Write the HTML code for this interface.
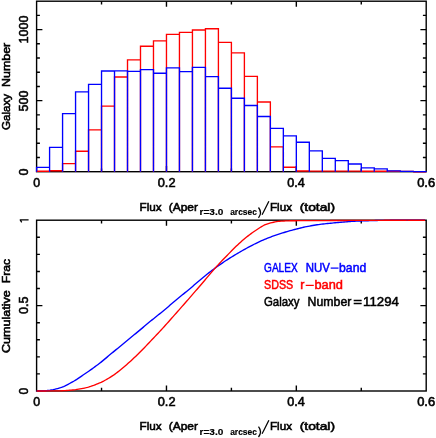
<!DOCTYPE html>
<html><head><meta charset="utf-8"><title>chart</title>
<style>html,body{margin:0;padding:0;background:#fff}svg{display:block;will-change:transform}text{font-family:"Liberation Sans",sans-serif}</style>
</head><body>
<svg width="436" height="438" viewBox="0 0 436 438">
<rect width="436" height="438" fill="#fff"/>
<rect x="36.6" y="1.2" width="389.60" height="170.50" fill="none" stroke="#000" stroke-width="1.4"/>
<path d="M101.53 1.2v3.2M101.53 171.7v-3.2" stroke="#000" stroke-width="1.4" fill="none"/>
<path d="M166.47 1.2v5.6M166.47 171.7v-5.6" stroke="#000" stroke-width="1.4" fill="none"/>
<path d="M231.40 1.2v3.2M231.40 171.7v-3.2" stroke="#000" stroke-width="1.4" fill="none"/>
<path d="M296.33 1.2v5.6M296.33 171.7v-5.6" stroke="#000" stroke-width="1.4" fill="none"/>
<path d="M361.27 1.2v3.2M361.27 171.7v-3.2" stroke="#000" stroke-width="1.4" fill="none"/>
<path d="M36.6 157.49h3.3M426.2 157.49h-3.3" stroke="#000" stroke-width="1.4" fill="none"/>
<path d="M36.6 143.28h3.3M426.2 143.28h-3.3" stroke="#000" stroke-width="1.4" fill="none"/>
<path d="M36.6 129.07h3.3M426.2 129.07h-3.3" stroke="#000" stroke-width="1.4" fill="none"/>
<path d="M36.6 114.86h3.3M426.2 114.86h-3.3" stroke="#000" stroke-width="1.4" fill="none"/>
<path d="M36.6 100.65h5.8M426.2 100.65h-5.8" stroke="#000" stroke-width="1.4" fill="none"/>
<path d="M36.6 86.44h3.3M426.2 86.44h-3.3" stroke="#000" stroke-width="1.4" fill="none"/>
<path d="M36.6 72.23h3.3M426.2 72.23h-3.3" stroke="#000" stroke-width="1.4" fill="none"/>
<path d="M36.6 58.02h3.3M426.2 58.02h-3.3" stroke="#000" stroke-width="1.4" fill="none"/>
<path d="M36.6 43.81h3.3M426.2 43.81h-3.3" stroke="#000" stroke-width="1.4" fill="none"/>
<path d="M36.6 29.60h5.8M426.2 29.60h-5.8" stroke="#000" stroke-width="1.4" fill="none"/>
<path d="M36.6 15.39h3.3M426.2 15.39h-3.3" stroke="#000" stroke-width="1.4" fill="none"/>
<rect x="36.6" y="220.2" width="389.60" height="170.80" fill="none" stroke="#000" stroke-width="1.4"/>
<path d="M101.53 220.2v3.2M101.53 391.0v-3.2" stroke="#000" stroke-width="1.4" fill="none"/>
<path d="M166.47 220.2v5.6M166.47 391.0v-5.6" stroke="#000" stroke-width="1.4" fill="none"/>
<path d="M231.40 220.2v3.2M231.40 391.0v-3.2" stroke="#000" stroke-width="1.4" fill="none"/>
<path d="M296.33 220.2v5.6M296.33 391.0v-5.6" stroke="#000" stroke-width="1.4" fill="none"/>
<path d="M361.27 220.2v3.2M361.27 391.0v-3.2" stroke="#000" stroke-width="1.4" fill="none"/>
<path d="M36.6 373.92h3.3M426.2 373.92h-3.3" stroke="#000" stroke-width="1.4" fill="none"/>
<path d="M36.6 356.84h3.3M426.2 356.84h-3.3" stroke="#000" stroke-width="1.4" fill="none"/>
<path d="M36.6 339.76h3.3M426.2 339.76h-3.3" stroke="#000" stroke-width="1.4" fill="none"/>
<path d="M36.6 322.68h3.3M426.2 322.68h-3.3" stroke="#000" stroke-width="1.4" fill="none"/>
<path d="M36.6 305.60h5.8M426.2 305.60h-5.8" stroke="#000" stroke-width="1.4" fill="none"/>
<path d="M36.6 288.52h3.3M426.2 288.52h-3.3" stroke="#000" stroke-width="1.4" fill="none"/>
<path d="M36.6 271.44h3.3M426.2 271.44h-3.3" stroke="#000" stroke-width="1.4" fill="none"/>
<path d="M36.6 254.36h3.3M426.2 254.36h-3.3" stroke="#000" stroke-width="1.4" fill="none"/>
<path d="M36.6 237.28h3.3M426.2 237.28h-3.3" stroke="#000" stroke-width="1.4" fill="none"/>
<path d="M36.60 171.7V171.20H49.59V171.7M49.59 171.7V170.70H62.57V171.7M62.57 171.7V163.60H75.56V171.7M75.56 171.7V151.20H88.55V171.7M88.55 171.7V129.80H101.53V171.7M101.53 171.7V106.10H114.52V171.7M114.52 171.7V77.00H127.51V171.7M127.51 171.7V59.80H140.49V171.7M140.49 171.7V46.20H153.48V171.7M153.48 171.7V40.90H166.47V171.7M166.47 171.7V34.30H179.45V171.7M179.45 171.7V32.30H192.44V171.7M192.44 171.7V30.00H205.43V171.7M205.43 171.7V28.70H218.41V171.7M218.41 171.7V42.30H231.40V171.7M231.40 171.7V52.80H244.39V171.7M244.39 171.7V76.30H257.37V171.7M257.37 171.7V102.00H270.36V171.7M270.36 171.7V146.80H283.35V171.7M283.35 171.7V167.20H296.33V171.7M296.33 171.7V171.00H309.32V171.7M309.32 171.7V171.10H322.31V171.7M322.31 171.7V171.10H335.29V171.7M335.29 171.7V171.10H348.28V171.7M348.28 171.7V171.10H361.27V171.7M361.27 171.7V171.20H374.25V171.7M374.25 171.7V171.20H387.24V171.7M387.24 171.7V171.20H400.23V171.7M400.23 171.7V171.30H413.21V171.7M413.21 171.7V171.70H426.20V171.7" stroke="#f00" stroke-width="1.35" fill="none" stroke-linejoin="miter"/>
<path d="M36.60 171.7V167.40H49.59V171.7M49.59 171.7V147.40H62.57V171.7M62.57 171.7V113.60H75.56V171.7M75.56 171.7V91.90H88.55V171.7M88.55 171.7V84.40H101.53V171.7M101.53 171.7V71.00H114.52V171.7M114.52 171.7V70.90H127.51V171.7M127.51 171.7V71.40H140.49V171.7M140.49 171.7V69.60H153.48V171.7M153.48 171.7V73.20H166.47V171.7M166.47 171.7V67.90H179.45V171.7M179.45 171.7V71.60H192.44V171.7M192.44 171.7V67.40H205.43V171.7M205.43 171.7V76.60H218.41V171.7M218.41 171.7V88.20H231.40V171.7M231.40 171.7V98.20H244.39V171.7M244.39 171.7V105.50H257.37V171.7M257.37 171.7V116.50H270.36V171.7M270.36 171.7V128.40H283.35V171.7M283.35 171.7V135.90H296.33V171.7M296.33 171.7V142.20H309.32V171.7M309.32 171.7V150.80H322.31V171.7M322.31 171.7V158.40H335.29V171.7M335.29 171.7V160.60H348.28V171.7M348.28 171.7V164.00H361.27V171.7M361.27 171.7V167.80H374.25V171.7M374.25 171.7V168.90H387.24V171.7M387.24 171.7V170.90H400.23V171.7M400.23 171.7V171.30H413.21V171.7M413.21 171.7V171.60H426.20V171.7" stroke="#00f" stroke-width="1.35" fill="none" stroke-linejoin="miter"/>
<path d="M36.60 390.97 L38.10 390.94 L39.60 390.89 L41.10 390.83 L42.60 390.77 L44.10 390.69 L45.60 390.61 L47.10 390.52 L48.60 390.38 L50.10 390.18 L51.60 389.92 L53.10 389.63 L54.60 389.29 L56.10 388.92 L57.60 388.53 L59.10 388.12 L60.60 387.68 L62.10 387.15 L63.60 386.53 L65.10 385.84 L66.60 385.09 L68.10 384.30 L69.60 383.48 L71.10 382.65 L72.60 381.82 L74.10 380.97 L75.60 380.06 L77.10 379.12 L78.60 378.13 L80.10 377.12 L81.60 376.10 L83.10 375.06 L84.60 374.03 L86.10 373.00 L87.60 371.97 L89.10 370.94 L90.60 369.89 L92.10 368.83 L93.60 367.76 L95.10 366.67 L96.60 365.57 L98.10 364.44 L99.60 363.29 L101.10 362.10 L102.60 360.88 L104.10 359.64 L105.60 358.38 L107.10 357.12 L108.60 355.85 L110.10 354.60 L111.60 353.35 L113.10 352.11 L114.60 350.88 L116.10 349.64 L117.60 348.40 L119.10 347.16 L120.60 345.92 L122.10 344.69 L123.60 343.45 L125.10 342.22 L126.60 340.99 L128.10 339.76 L129.60 338.53 L131.10 337.30 L132.60 336.08 L134.10 334.85 L135.60 333.61 L137.10 332.37 L138.60 331.13 L140.10 329.88 L141.60 328.62 L143.10 327.36 L144.60 326.10 L146.10 324.84 L147.60 323.58 L149.10 322.34 L150.60 321.10 L152.10 319.88 L153.60 318.67 L155.10 317.47 L156.60 316.27 L158.10 315.08 L159.60 313.88 L161.10 312.67 L162.60 311.45 L164.10 310.21 L165.60 308.95 L167.10 307.68 L168.60 306.40 L170.10 305.11 L171.60 303.83 L173.10 302.54 L174.60 301.27 L176.10 300.00 L177.60 298.75 L179.10 297.52 L180.60 296.30 L182.10 295.08 L183.60 293.86 L185.10 292.64 L186.60 291.42 L188.10 290.18 L189.60 288.94 L191.10 287.67 L192.60 286.39 L194.10 285.09 L195.60 283.79 L197.10 282.49 L198.60 281.20 L200.10 279.92 L201.60 278.67 L203.10 277.44 L204.60 276.23 L206.10 275.02 L207.60 273.83 L209.10 272.65 L210.60 271.49 L212.10 270.34 L213.60 269.21 L215.10 268.10 L216.60 267.01 L218.10 265.94 L219.60 264.89 L221.10 263.84 L222.60 262.82 L224.10 261.81 L225.60 260.81 L227.10 259.83 L228.60 258.86 L230.10 257.91 L231.60 256.98 L233.10 256.06 L234.60 255.15 L236.10 254.25 L237.60 253.37 L239.10 252.49 L240.60 251.63 L242.10 250.77 L243.60 249.92 L245.10 249.07 L246.60 248.24 L248.10 247.41 L249.60 246.60 L251.10 245.80 L252.60 245.03 L254.10 244.27 L255.60 243.53 L257.10 242.81 L258.60 242.09 L260.10 241.39 L261.60 240.71 L263.10 240.04 L264.60 239.40 L266.10 238.77 L267.60 238.16 L269.10 237.58 L270.60 237.01 L272.10 236.46 L273.60 235.92 L275.10 235.40 L276.60 234.88 L278.10 234.38 L279.60 233.89 L281.10 233.41 L282.60 232.94 L284.10 232.48 L285.60 232.02 L287.10 231.58 L288.60 231.15 L290.10 230.72 L291.60 230.31 L293.10 229.90 L294.60 229.51 L296.10 229.12 L297.60 228.73 L299.10 228.35 L300.60 227.98 L302.10 227.62 L303.60 227.28 L305.10 226.95 L306.60 226.65 L308.10 226.35 L309.60 226.06 L311.10 225.78 L312.60 225.52 L314.10 225.26 L315.60 225.02 L317.10 224.79 L318.60 224.57 L320.10 224.37 L321.60 224.18 L323.10 224.01 L324.60 223.84 L326.10 223.68 L327.60 223.52 L329.10 223.37 L330.60 223.22 L332.10 223.08 L333.60 222.93 L335.10 222.78 L336.60 222.63 L338.10 222.49 L339.60 222.35 L341.10 222.22 L342.60 222.09 L344.10 221.97 L345.60 221.85 L347.10 221.74 L348.60 221.63 L350.10 221.53 L351.60 221.43 L353.10 221.33 L354.60 221.24 L356.10 221.16 L357.60 221.08 L359.10 221.02 L360.60 220.96 L362.10 220.91 L363.60 220.86 L365.10 220.81 L366.60 220.77 L368.10 220.72 L369.60 220.68 L371.10 220.64 L372.60 220.60 L374.10 220.56 L375.60 220.52 L377.10 220.48 L378.60 220.44 L380.10 220.41 L381.60 220.38 L383.10 220.35 L384.60 220.34 L386.10 220.32 L387.60 220.31 L389.10 220.30 L390.60 220.29 L392.10 220.28 L393.60 220.27 L395.10 220.26 L396.60 220.26 L398.10 220.25 L399.60 220.24 L401.10 220.24 L402.60 220.23 L404.10 220.23 L405.60 220.22 L407.10 220.22 L408.60 220.21 L410.10 220.21 L411.60 220.21 L413.10 220.21 L414.60 220.21 L416.10 220.20 L417.60 220.20 L419.10 220.20 L420.60 220.20 L422.10 220.20 L423.60 220.20 L425.10 220.20" stroke="#00f" stroke-width="1.35" fill="none" stroke-linejoin="round"/>
<path d="M36.60 390.99 L38.10 390.99 L39.60 390.98 L41.10 390.98 L42.60 390.97 L44.10 390.96 L45.60 390.95 L47.10 390.94 L48.60 390.94 L50.10 390.93 L51.60 390.92 L53.10 390.91 L54.60 390.90 L56.10 390.88 L57.60 390.87 L59.10 390.85 L60.60 390.82 L62.10 390.77 L63.60 390.70 L65.10 390.61 L66.60 390.51 L68.10 390.39 L69.60 390.26 L71.10 390.13 L72.60 389.99 L74.10 389.83 L75.60 389.65 L77.10 389.43 L78.60 389.20 L80.10 388.94 L81.60 388.66 L83.10 388.36 L84.60 388.04 L86.10 387.70 L87.60 387.32 L89.10 386.89 L90.60 386.42 L92.10 385.91 L93.60 385.37 L95.10 384.79 L96.60 384.20 L98.10 383.58 L99.60 382.95 L101.10 382.27 L102.60 381.54 L104.10 380.78 L105.60 379.97 L107.10 379.13 L108.60 378.26 L110.10 377.35 L111.60 376.41 L113.10 375.43 L114.60 374.38 L116.10 373.27 L117.60 372.11 L119.10 370.92 L120.60 369.70 L122.10 368.45 L123.60 367.20 L125.10 365.94 L126.60 364.65 L128.10 363.34 L129.60 361.99 L131.10 360.63 L132.60 359.23 L134.10 357.82 L135.60 356.40 L137.10 354.96 L138.60 353.50 L140.10 352.01 L141.60 350.50 L143.10 348.97 L144.60 347.42 L146.10 345.86 L147.60 344.29 L149.10 342.72 L150.60 341.14 L152.10 339.57 L153.60 337.99 L155.10 336.40 L156.60 334.81 L158.10 333.21 L159.60 331.59 L161.10 329.97 L162.60 328.34 L164.10 326.70 L165.60 325.05 L167.10 323.38 L168.60 321.70 L170.10 320.01 L171.60 318.32 L173.10 316.62 L174.60 314.92 L176.10 313.22 L177.60 311.52 L179.10 309.83 L180.60 308.12 L182.10 306.42 L183.60 304.71 L185.10 303.00 L186.60 301.29 L188.10 299.57 L189.60 297.85 L191.10 296.12 L192.60 294.40 L194.10 292.66 L195.60 290.93 L197.10 289.19 L198.60 287.45 L200.10 285.71 L201.60 283.96 L203.10 282.22 L204.60 280.45 L206.10 278.68 L207.60 276.90 L209.10 275.12 L210.60 273.35 L212.10 271.59 L213.60 269.87 L215.10 268.17 L216.60 266.51 L218.10 264.87 L219.60 263.25 L221.10 261.65 L222.60 260.06 L224.10 258.50 L225.60 256.94 L227.10 255.41 L228.60 253.88 L230.10 252.36 L231.60 250.84 L233.10 249.32 L234.60 247.82 L236.10 246.35 L237.60 244.91 L239.10 243.50 L240.60 242.14 L242.10 240.84 L243.60 239.56 L245.10 238.30 L246.60 237.07 L248.10 235.88 L249.60 234.71 L251.10 233.59 L252.60 232.52 L254.10 231.49 L255.60 230.50 L257.10 229.49 L258.60 228.48 L260.10 227.51 L261.60 226.58 L263.10 225.73 L264.60 224.97 L266.10 224.32 L267.60 223.81 L269.10 223.37 L270.60 222.96 L272.10 222.57 L273.60 222.22 L275.10 221.91 L276.60 221.64 L278.10 221.43 L279.60 221.27 L281.10 221.17 L282.60 221.08 L284.10 221.01 L285.60 220.94 L287.10 220.88 L288.60 220.83 L290.10 220.79 L291.60 220.76 L293.10 220.73 L294.60 220.72 L296.10 220.71 L297.60 220.70 L299.10 220.69 L300.60 220.68 L302.10 220.68 L303.60 220.67 L305.10 220.66 L306.60 220.66 L308.10 220.65 L309.60 220.64 L311.10 220.63 L312.60 220.63 L314.10 220.62 L315.60 220.61 L317.10 220.60 L318.60 220.60 L320.10 220.59 L321.60 220.58 L323.10 220.57 L324.60 220.57 L326.10 220.56 L327.60 220.55 L329.10 220.55 L330.60 220.54 L332.10 220.53 L333.60 220.52 L335.10 220.52 L336.60 220.51 L338.10 220.50 L339.60 220.49 L341.10 220.49 L342.60 220.48 L344.10 220.47 L345.60 220.46 L347.10 220.46 L348.60 220.45 L350.10 220.44 L351.60 220.43 L353.10 220.43 L354.60 220.42 L356.10 220.41 L357.60 220.41 L359.10 220.40 L360.60 220.39 L362.10 220.39 L363.60 220.38 L365.10 220.37 L366.60 220.37 L368.10 220.36 L369.60 220.36 L371.10 220.35 L372.60 220.34 L374.10 220.34 L375.60 220.33 L377.10 220.33 L378.60 220.32 L380.10 220.31 L381.60 220.31 L383.10 220.30 L384.60 220.29 L386.10 220.29 L387.60 220.28 L389.10 220.28 L390.60 220.27 L392.10 220.26 L393.60 220.26 L395.10 220.25 L396.60 220.25 L398.10 220.24 L399.60 220.23 L401.10 220.23 L402.60 220.22 L404.10 220.21 L405.60 220.21 L407.10 220.20 L408.60 220.20 L410.10 220.20 L411.60 220.20 L413.10 220.20 L414.60 220.20 L416.10 220.20 L417.60 220.20 L419.10 220.20 L420.60 220.20 L422.10 220.20 L423.60 220.20 L425.10 220.20" stroke="#f00" stroke-width="1.35" fill="none" stroke-linejoin="round"/>
<text transform="translate(33.25 187.00) scale(1.0000 1)" font-size="12.3" fill="#000" stroke="#000" stroke-width="0.58">0</text>
<text transform="translate(157.73 187.00) scale(1.0397 1)" font-size="12.3" fill="#000" stroke="#000" stroke-width="0.58">0.2</text>
<text transform="translate(287.34 187.00) scale(1.0270 1)" font-size="12.3" fill="#000" stroke="#000" stroke-width="0.58">0.4</text>
<text transform="translate(417.13 187.00) scale(1.0521 1)" font-size="12.3" fill="#000" stroke="#000" stroke-width="0.58">0.6</text>
<text transform="translate(139.55 211.00) scale(1.0022 1)" font-size="11.7" fill="#000" stroke="#000" stroke-width="0.58">Flux</text>
<text transform="translate(168.73 211.00) scale(1.0247 1)" font-size="11.7" fill="#000" stroke="#000" stroke-width="0.58">(Aper</text>
<text transform="translate(199.56 215.40) scale(1.1719 1)" font-weight="bold" font-size="8.6" fill="#000" stroke="#000" stroke-width="0.15">r=3.0</text>
<text transform="translate(230.15 215.40) scale(0.9859 1)" font-weight="bold" font-size="8.6" fill="#000" stroke="#000" stroke-width="0.15">arcsec</text>
<text transform="translate(269.95 211.00) scale(0.9975 1)" font-size="11.7" fill="#000" stroke="#000" stroke-width="0.58">Flux</text>
<text transform="translate(299.72 211.00) scale(1.1820 1)" font-size="11.7" fill="#000" stroke="#000" stroke-width="0.58">(total)</text>
<text transform="translate(33.25 406.10) scale(1.0000 1)" font-size="12.3" fill="#000" stroke="#000" stroke-width="0.58">0</text>
<text transform="translate(157.73 406.10) scale(1.0397 1)" font-size="12.3" fill="#000" stroke="#000" stroke-width="0.58">0.2</text>
<text transform="translate(287.34 406.10) scale(1.0270 1)" font-size="12.3" fill="#000" stroke="#000" stroke-width="0.58">0.4</text>
<text transform="translate(417.13 406.10) scale(1.0521 1)" font-size="12.3" fill="#000" stroke="#000" stroke-width="0.58">0.6</text>
<text transform="translate(139.55 430.10) scale(1.0022 1)" font-size="11.7" fill="#000" stroke="#000" stroke-width="0.58">Flux</text>
<text transform="translate(168.73 430.10) scale(1.0247 1)" font-size="11.7" fill="#000" stroke="#000" stroke-width="0.58">(Aper</text>
<text transform="translate(199.56 434.50) scale(1.1719 1)" font-weight="bold" font-size="8.6" fill="#000" stroke="#000" stroke-width="0.15">r=3.0</text>
<text transform="translate(230.15 434.50) scale(0.9859 1)" font-weight="bold" font-size="8.6" fill="#000" stroke="#000" stroke-width="0.15">arcsec</text>
<text transform="translate(269.95 430.10) scale(0.9975 1)" font-size="11.7" fill="#000" stroke="#000" stroke-width="0.58">Flux</text>
<text transform="translate(299.72 430.10) scale(1.1820 1)" font-size="11.7" fill="#000" stroke="#000" stroke-width="0.58">(total)</text>
<text transform="translate(28.30 175.46) rotate(-90) scale(1.0167 1)" font-size="12.3" fill="#000" stroke="#000" stroke-width="0.58">0</text>
<text transform="translate(28.30 111.46) rotate(-90) scale(1.0162 1)" font-size="12.3" fill="#000" stroke="#000" stroke-width="0.58">500</text>
<text transform="translate(28.30 43.58) rotate(-90) scale(1.0299 1)" font-size="12.3" fill="#000" stroke="#000" stroke-width="0.58">1000</text>
<text transform="translate(10.30 87.01) rotate(-90) scale(1.0636 1)" font-size="11.7" fill="#000" stroke="#000" stroke-width="0.58">Number</text>
<text transform="translate(10.30 129.94) rotate(-90) scale(0.9899 1)" font-size="11.7" fill="#000" stroke="#000" stroke-width="0.58">Galaxy</text>
<text transform="translate(28.30 394.54) rotate(-90) scale(0.9833 1)" font-size="12.3" fill="#000" stroke="#000" stroke-width="0.58">0</text>
<text transform="translate(28.30 313.96) rotate(-90) scale(1.0210 1)" font-size="12.3" fill="#000" stroke="#000" stroke-width="0.58">0.5</text>
<text transform="translate(10.40 283.29) rotate(-90) scale(1.0427 1)" font-size="11.7" fill="#000" stroke="#000" stroke-width="0.58">Frac</text>
<text transform="translate(10.40 353.09) rotate(-90) scale(1.0762 1)" font-size="11.7" fill="#000" stroke="#000" stroke-width="0.58">Cumulative</text>
<text transform="translate(264.06 271.90) scale(0.8132 1)" font-size="12.4" fill="#00f" stroke="#00f" stroke-width="0.5">GALEX</text>
<text transform="translate(305.63 271.90) scale(0.9242 1)" font-size="12.4" fill="#00f" stroke="#00f" stroke-width="0.5">NUV</text>
<text transform="translate(339.06 271.90) scale(0.9850 1)" font-size="12.4" fill="#00f" stroke="#00f" stroke-width="0.5">band</text>
<text transform="translate(264.12 289.20) scale(0.8629 1)" font-size="12.4" fill="#f00" stroke="#f00" stroke-width="0.5">SDSS</text>
<text transform="translate(300.25 289.20) scale(1.0000 1)" font-size="12.4" fill="#f00" stroke="#f00" stroke-width="0.5">r</text>
<text transform="translate(314.43 289.20) scale(1.0312 1)" font-size="12.4" fill="#f00" stroke="#f00" stroke-width="0.5">band</text>
<text transform="translate(264.00 305.70) scale(0.9212 1)" font-size="12.4" fill="#000" stroke="#000" stroke-width="0.5">Galaxy</text>
<text transform="translate(307.56 305.70) scale(0.9936 1)" font-size="12.4" fill="#000" stroke="#000" stroke-width="0.5">Number</text>
<text transform="translate(353.22 305.70) scale(1.2131 1)" font-size="12.4" fill="#000" stroke="#000" stroke-width="0.5">=</text>
<text transform="translate(363.09 305.70) scale(1.0691 1)" font-size="12.4" fill="#000" stroke="#000" stroke-width="0.5">11294</text>
<path d="M262.1 214.7L268.9 201.2" stroke="#000" stroke-width="1.25" fill="none"/>
<path d="M258.5 207.5Q262.5 212.7 258.5 217.9" stroke="#000" stroke-width="1.25" fill="none"/>
<path d="M262.1 433.8L268.9 420.3" stroke="#000" stroke-width="1.25" fill="none"/>
<path d="M258.5 426.6Q262.5 431.8 258.5 437.0" stroke="#000" stroke-width="1.25" fill="none"/>
<path d="M330.7 268.1H338.5" stroke="#00f" stroke-width="1.25" fill="none"/>
<path d="M305.7 285.4H313.8" stroke="#f00" stroke-width="1.25" fill="none"/>
<path d="M28.6 219.9H20.2L21.7 222.3" stroke="#000" stroke-width="1.25" fill="none" stroke-linejoin="round"/>
</svg>
</body></html>
